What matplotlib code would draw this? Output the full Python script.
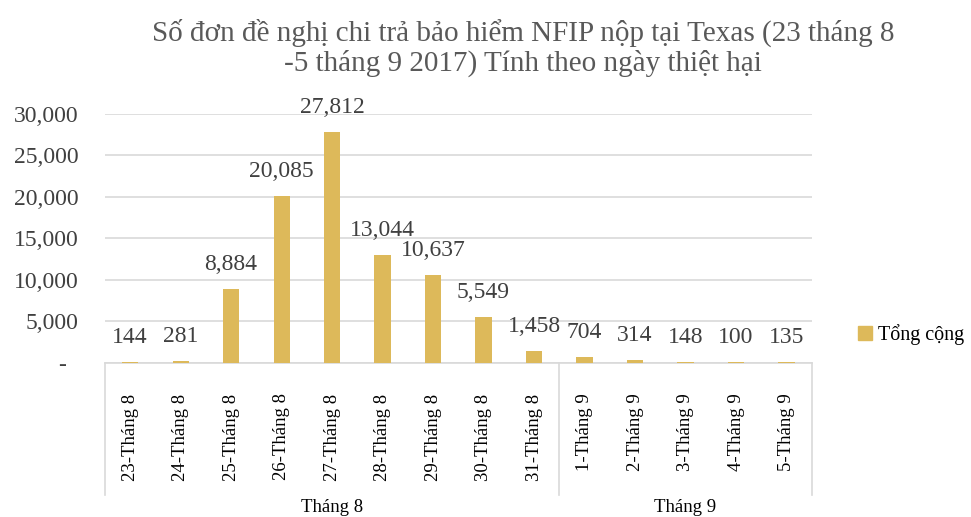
import matplotlib.pyplot as plt
from matplotlib.ticker import FuncFormatter
from matplotlib.patches import Patch

plt.rcParams['font.family'] = ['Liberation Serif', 'DejaVu Serif']

# data
days = ['23-Tháng 8', '24-Tháng 8', '25-Tháng 8', '26-Tháng 8', '27-Tháng 8',
        '28-Tháng 8', '29-Tháng 8', '30-Tháng 8', '31-Tháng 8',
        '1-Tháng 9', '2-Tháng 9', '3-Tháng 9', '4-Tháng 9', '5-Tháng 9']
claims = [144, 281, 8884, 20085, 27812, 13044, 10637, 5549, 1458,
          704, 314, 148, 100, 135]
groups = ['Tháng 8', 'Tháng 9']
group_sizes = [9, 5]

title = 'Số đơn đề nghị chi trả bảo hiểm NFIP nộp tại Texas (23 tháng 8\n-5 tháng 9 2017) Tính theo ngày thiệt hại'
series_name = 'Tổng cộng'

bar_color = '#DDB95A'
grid_color = '#D9D9D9'
text_color = '#404040'

fig = plt.figure(figsize=(9.71, 5.17), dpi=100)
ax = fig.add_axes([0.108, 0.298, 0.728, 0.4816])

x = list(range(len(days)))
bars = ax.bar(x, claims, width=0.32, color=bar_color, zorder=3)

ax.set_xlim(-0.5, len(days) - 0.5)
ax.set_ylim(0, 30000)
ax.set_yticks(range(0, 30001, 5000))
ax.yaxis.set_major_formatter(FuncFormatter(lambda v, p: '-  ' if v == 0 else f'{int(v):,}'))
ax.grid(axis='y', color=grid_color, linewidth=1.2, zorder=0)
ax.tick_params(axis='y', length=0, labelsize=17, labelcolor=text_color, pad=19)

ax.set_xticks(x)
ax.set_xticklabels(days, rotation=90, fontsize=13.5, color='black')
ax.tick_params(axis='x', length=0, pad=22)

for s in ['top', 'right', 'left']:
    ax.spines[s].set_visible(False)
ax.spines['bottom'].set_color(grid_color)
ax.spines['bottom'].set_linewidth(1.2)

# data labels
for xi, v in zip(x, claims):
    ax.annotate(f'{v:,}', (xi, v), xytext=(0, 10), textcoords='offset points',
                ha='center', va='bottom', fontsize=17, color=text_color)

# group separators and labels
trans = ax.get_xaxis_transform()
edge = -0.5
for g, n in zip(groups, group_sizes):
    ax.plot([edge, edge], [0, -0.53], transform=trans, color=grid_color,
            lw=1.2, clip_on=False)
    ax.text(edge + n / 2, -0.545, g, transform=trans, ha='center', va='top',
            fontsize=13.5, color='black')
    edge += n
ax.plot([edge, edge], [0, -0.53], transform=trans, color=grid_color,
        lw=1.2, clip_on=False)

fig.suptitle(title, x=0.539, y=0.963, fontsize=21, color='#595959', linespacing=1.1)

fig.legend(handles=[Patch(color=bar_color, label=series_name)],
           loc='center left', bbox_to_anchor=(0.865, 0.352), frameon=False,
           fontsize=14.5, handlelength=0.7, handleheight=0.7, handletextpad=0.3,
           labelcolor='black')

fig.savefig('out.png', dpi=100)
